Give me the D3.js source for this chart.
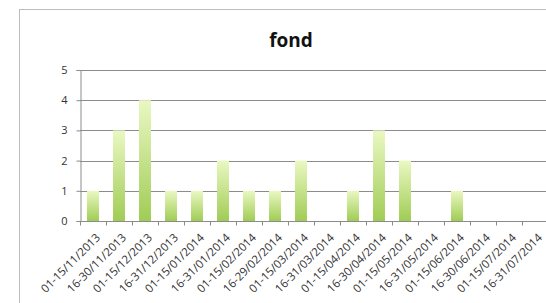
<!DOCTYPE html>
<html>
<head>
<meta charset="utf-8">
<script src="https://cdn.jsdelivr.net/npm/d3@7"></script>
<style>
  body { margin: 0; background: #fff; }
  svg { display: block; }
</style>
</head>
<body>
<div id="chart"></div>
<script>
// periods (half-months) and counts
const periods = [
  '01-15/11/2013', '16-30/11/2013', '01-15/12/2013', '16-31/12/2013',
  '01-15/01/2014', '16-31/01/2014', '01-15/02/2014', '16-29/02/2014',
  '01-15/03/2014', '16-31/03/2014', '01-15/04/2014', '16-30/04/2014',
  '01-15/05/2014', '16-31/05/2014', '01-15/06/2014', '16-30/06/2014',
  '01-15/07/2014', '16-31/07/2014'
];
const counts = [1, 3, 4, 1, 1, 2, 1, 1, 2, 0, 1, 3, 2, 0, 1, 0, 0, 0];
const yTicks = [0, 1, 2, 3, 4, 5];
const title = 'fond';

let width = 546, height = 303;
let margin = { top: 70, left: 80, bottom: 82 };
let font = '"Open Sans", sans-serif';

let svg = d3.select('#chart')
  .append('svg')
  .attr('width', width)
  .attr('height', height);

// bar gradient, light at top to green at bottom
let grad = svg.append('defs').append('linearGradient')
  .attr('id', 'barFill')
  .attr('x1', 0).attr('y1', 0).attr('x2', 0).attr('y2', 1);
grad.append('stop').attr('offset', '0%').attr('stop-color', '#eaf8c2');
grad.append('stop').attr('offset', '100%').attr('stop-color', '#a0cc55');

// outer chart frame (runs off the right and bottom)
svg.append('rect')
  .attr('x', 19.5).attr('y', 9.5)
  .attr('width', 600).attr('height', 400)
  .attr('fill', 'none')
  .attr('stroke', '#bdbdbd');

svg.append('text')
  .attr('x', 291).attr('y', 47)
  .attr('text-anchor', 'middle')
  .style('font-family', font)
  .style('font-weight', 'bold')
  .style('font-size', '19px')
  .attr('fill', '#111')
  .text(title);

let x = d3.scaleBand()
  .domain(periods)
  .range([margin.left, margin.left + periods.length * 26])
  .paddingInner(0.54)
  .paddingOuter(0.27);

let y = d3.scaleLinear()
  .domain([0, 5])
  .range([height - margin.bottom, margin.top]);

// gridlines
svg.append('g')
  .selectAll('line')
  .data(yTicks.slice(1))
  .join('line')
  .attr('x1', margin.left).attr('x2', width)
  .attr('y1', d => Math.round(y(d)) + 0.5)
  .attr('y2', d => Math.round(y(d)) + 0.5)
  .attr('stroke', '#8c8c8c');

// bars
svg.append('g')
  .selectAll('rect')
  .data(counts)
  .join('rect')
  .attr('x', (d, i) => x(periods[i]))
  .attr('width', x.bandwidth())
  .attr('y', d => y(d))
  .attr('height', d => y(0) - y(d))
  .attr('fill', 'url(#barFill)');

// y axis
let yAxis = svg.append('g')
  .attr('transform', `translate(${margin.left + 0.5},0)`)
  .call(d3.axisLeft(y).tickValues(yTicks).tickFormat(d3.format('d'))
    .tickSize(4).tickPadding(9));

// x axis: ticks at the band edges
let xAxis = svg.append('g')
  .attr('transform', `translate(0,${Math.round(y(0)) + 0.5})`);
xAxis.append('line')
  .attr('x1', margin.left).attr('x2', width)
  .attr('stroke', '#8c8c8c');
xAxis.selectAll('line.tick')
  .data(d3.range(periods.length + 1))
  .join('line')
  .attr('class', 'tick')
  .attr('x1', i => margin.left + i * 26 + 0.5)
  .attr('x2', i => margin.left + i * 26 + 0.5)
  .attr('y1', 0).attr('y2', 4)
  .attr('stroke', '#8c8c8c');
xAxis.selectAll('text')
  .data(periods)
  .join('text')
  .attr('transform', d => `translate(${x(d) + x.bandwidth() / 2 + 5},14) rotate(-45)`)
  .attr('text-anchor', 'end')
  .attr('dy', '0.35em')
  .style('font-family', font)
  .style('font-size', '11.5px')
  .attr('fill', '#333')
  .text(d => d);

yAxis.select('.domain').attr('stroke', '#8c8c8c');
yAxis.selectAll('.tick line').attr('stroke', '#8c8c8c');
yAxis.selectAll('.tick text')
  .style('font-family', font)
  .style('font-size', '11px')
  .attr('fill', '#333');
</script>
</body>
</html>
